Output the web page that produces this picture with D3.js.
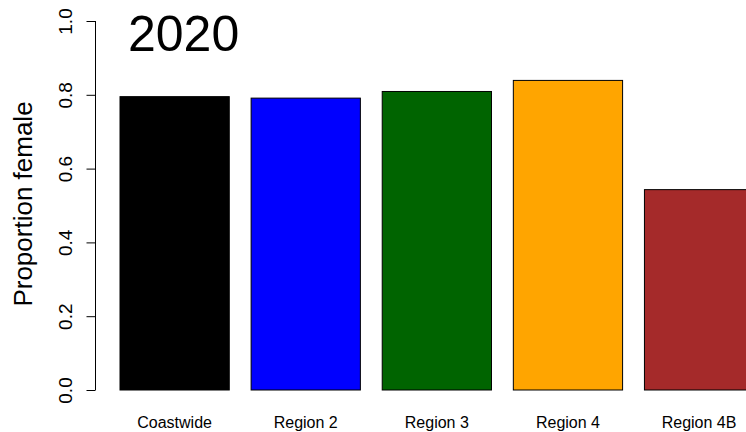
<!DOCTYPE html>
<html>
<head>
<meta charset="utf-8">
<script src="https://cdn.jsdelivr.net/npm/d3@7"></script>
<style>
html,body{margin:0;padding:0;background:#fff;}
svg{display:block;}
text{font-family:"Liberation Sans", Arial, sans-serif;}
</style>
</head>
<body>
<svg id="chart" width="746" height="432"></svg>
<script>
const categories = ["Coastwide", "Region 2", "Region 3", "Region 4", "Region 4B"];
const values = [0.795, 0.791, 0.809, 0.839, 0.543];
const colors = ["#000000", "#0000FF", "#006400", "#FFA500", "#A52A2A"];
const yTicks = [0.0, 0.2, 0.4, 0.6, 0.8, 1.0];
const title = "2020";
const yLabel = "Proportion female";

const svg = d3.select("#chart");

const y = d3.scaleLinear().domain([0, 1]).range([390, 21]);
const x = d3.scaleBand().domain(categories)
  .range([120, 753.7]).paddingInner(0.2/1.2).paddingOuter(0);

// bars
svg.append("g").selectAll("rect")
  .data(categories)
  .join("rect")
  .attr("x", d => x(d))
  .attr("y", (d, i) => y(values[i]))
  .attr("width", x.bandwidth())
  .attr("height", (d, i) => y(0) - y(values[i]))
  .attr("fill", (d, i) => colors[i])
  .attr("stroke", "#000")
  .attr("stroke-width", 1);

// y axis
const yAxis = d3.axisLeft(y).tickValues(yTicks).tickFormat(d3.format(".1f")).tickSize(9).tickSizeOuter(0);
const gy = svg.append("g").attr("transform", "translate(95.5,0)").call(yAxis);
gy.select(".domain").attr("stroke", "#000").attr("d", `M0,${y(0)}V${y(1)}`);
gy.selectAll(".tick line").attr("stroke", "#000");
gy.selectAll(".tick text")
  .attr("x", null).attr("dy", null)
  .attr("transform", "translate(-24,0) rotate(-90)")
  .attr("text-anchor", "middle")
  .attr("font-size", 19)
  .attr("fill", "#000")
  .attr("font-family", "Liberation Sans, Arial, sans-serif");

// x labels
svg.append("g").selectAll("text")
  .data(categories)
  .join("text")
  .attr("x", d => x(d) + x.bandwidth() / 2)
  .attr("y", 428)
  .attr("text-anchor", "middle")
  .attr("font-size", 16)
  .attr("fill", "#000")
  .text(d => d);

// y label
svg.append("text")
  .attr("transform", `translate(32,204) rotate(-90)`)
  .attr("text-anchor", "middle")
  .attr("font-size", 26)
  .attr("fill", "#000")
  .text(yLabel);

// title
svg.append("text")
  .attr("x", 128)
  .attr("y", 51)
  .attr("font-size", 50)
  .attr("fill", "#000")
  .text(title);
</script>
</body>
</html>
